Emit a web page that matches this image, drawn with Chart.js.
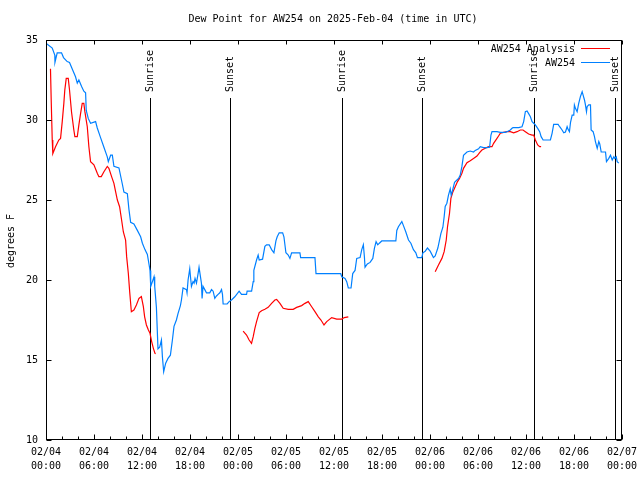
<!DOCTYPE html>
<html>
<head>
<meta charset="utf-8">
<script src="https://cdn.jsdelivr.net/npm/chart.js@4/dist/chart.umd.min.js"></script>
<style>
html,body{margin:0;padding:0;background:#fff;}
#wrap{width:640px;height:480px;}
</style>
</head>
<body>
<div id="wrap"><canvas id="c" width="640" height="480"></canvas></div>
<script>
// ---- data (hours since 2025-02-04 00:00 UTC, dew point in degrees F) ----
const titleText = 'Dew Point for AW254 on 2025-Feb-04 (time in UTC)';
const yAxisTitle = 'degrees F';
const dateLabels = ['02/04','02/04','02/04','02/04','02/05','02/05','02/05','02/05','02/06','02/06','02/06','02/06','02/07'];
const timeLabels = ['00:00','06:00','12:00','18:00','00:00','06:00','12:00','18:00','00:00','06:00','12:00','18:00','00:00'];
const yTicks = [10,15,20,25,30,35];

const blueName = 'AW254';
const blueHours = [0,0.78,1.10,1.12,1.40,1.94,2.19,2.65,2.94,3.36,3.69,3.91,4.11,4.45,4.73,4.95,5.03,5.28,5.57,6.20,6.41,6.82,7.24,7.66,7.79,8.08,8.29,8.49,9.12,9.33,9.54,9.74,10.17,10.37,10.58,10.99,11.42,11.83,12.05,12.37,12.67,12.87,13.00,13.09,13.30,13.50,13.59,13.80,14.00,14.21,14.43,14.55,14.71,14.96,15.25,15.55,15.80,16.00,16.30,16.50,16.80,16.93,17.13,17.56,17.63,17.76,17.97,18.06,18.18,18.38,18.51,18.63,18.81,19.01,19.13,19.31,19.43,19.51,19.63,19.85,20.06,20.47,20.69,20.89,21.10,21.31,21.51,21.73,21.94,22.06,22.14,22.64,22.89,23.19,23.60,24.14,24.44,25.07,25.14,25.70,25.90,25.98,26.32,26.52,26.65,27.07,27.36,27.57,27.90,28.20,28.49,28.74,28.90,29.15,29.58,29.74,29.99,30.28,30.49,30.70,31.74,31.83,33.62,33.75,36.84,36.97,37.38,37.59,37.79,38.13,38.34,38.63,38.84,39.26,39.47,39.67,39.80,39.88,40.17,40.51,40.85,41.05,41.26,41.47,41.67,41.97,43.73,43.85,44.05,44.48,44.68,44.98,45.31,45.61,45.93,46.23,46.43,46.98,47.11,47.40,47.68,48.02,48.43,48.65,48.98,49.36,49.61,49.77,49.90,50.11,50.31,50.53,50.65,50.82,51.07,51.37,51.57,51.78,51.99,52.19,52.62,53.03,53.44,53.66,54.07,54.28,54.70,55.12,55.45,55.62,55.75,56.37,56.79,57.41,57.62,58.04,58.25,58.38,59.08,59.50,59.71,59.92,60.13,60.33,60.55,60.76,60.96,61.17,61.46,61.71,61.89,62.14,63.05,63.26,63.46,64.01,64.21,64.51,64.72,64.93,65.14,65.27,65.43,65.56,65.77,65.97,66.05,66.18,66.39,66.59,66.80,67.02,67.14,67.31,67.43,67.56,67.64,67.84,68.06,68.14,68.39,68.56,68.68,68.90,69.10,69.22,69.40,69.94,70.06,70.35,70.56,70.78,70.98,71.10,71.28,71.40,71.60];
const blueDew = [34.8,34.5,34.06,33.6,34.2,34.2,33.9,33.65,33.6,33.1,32.7,32.3,32.5,32.1,31.8,31.7,30.6,30.1,29.8,29.9,29.5,28.9,28.3,27.7,27.4,27.8,27.8,27.1,27.0,26.5,26.0,25.5,25.4,24.4,23.6,23.5,23.1,22.7,22.3,21.9,21.6,21.0,20.6,19.6,19.9,20.2,19.6,18.3,15.7,15.8,16.25,15.2,14.27,14.8,15.1,15.3,16.25,17.1,17.5,17.9,18.4,18.75,19.5,19.4,19.2,20.0,20.7,20.2,19.6,19.9,19.8,20.1,19.8,20.4,20.8,20.2,19.8,18.85,19.6,19.4,19.2,19.2,19.4,19.3,18.85,19.0,19.1,19.2,19.4,19.1,18.5,18.5,18.65,18.75,18.95,19.3,19.1,19.1,19.3,19.3,19.9,20.6,21.25,21.56,21.25,21.3,22.1,22.2,22.2,21.9,21.7,22.45,22.7,22.95,22.95,22.7,21.7,21.56,21.35,21.7,21.7,21.4,21.4,20.4,20.4,20.2,20.1,19.9,19.5,19.5,20.4,20.6,21.35,21.4,21.9,22.2,21.45,20.8,21.0,21.1,21.35,21.98,22.4,22.2,22.3,22.44,22.44,23.1,23.33,23.65,23.4,23.0,22.5,22.3,21.9,21.7,21.4,21.4,21.7,21.8,22.0,21.8,21.4,21.5,22.0,22.9,23.3,23.95,24.6,24.8,25.3,25.7,25.3,25.6,26.1,26.25,26.35,26.56,27.1,27.8,28.0,28.06,28.0,28.1,28.2,28.33,28.27,28.27,28.3,29.06,29.27,29.27,29.23,29.23,29.27,29.375,29.48,29.52,29.52,29.58,29.9,30.52,30.56,30.4,30.2,29.9,29.8,29.7,29.48,29.27,28.96,28.75,28.75,29.17,29.73,29.73,29.58,29.375,29.2,29.25,29.58,29.4,29.27,29.83,30.3,30.3,30.94,30.73,30.52,31.04,31.46,31.77,31.56,31.25,30.94,30.52,30.83,30.94,30.94,29.375,29.27,28.96,28.65,28.23,28.65,28.5,28.0,28.0,27.4,27.6,27.8,27.5,27.7,27.6,27.7,27.4,27.3];

const redName = 'AW254 Analysis';
const redHours = [0.56,0.65,0.78,0.85,1.19,1.60,1.82,2.03,2.23,2.35,2.53,2.78,2.94,3.19,3.48,3.61,3.91,4.11,4.32,4.53,4.73,4.86,5.16,5.36,5.57,5.99,6.41,6.61,6.91,7.24,7.66,7.86,8.20,8.49,8.70,8.92,9.20,9.45,9.67,9.95,10.08,10.29,10.46,10.67,10.99,11.30,11.62,11.92,12.17,12.33,12.55,12.80,13.00,13.21,13.42,13.62,13.71,
  20,
  24.64,25.07,25.39,25.69,25.90,26.11,26.32,26.65,26.95,27.36,27.77,28.20,28.61,28.83,29.24,29.65,30.28,30.90,31.33,31.96,32.37,32.78,33.21,33.62,34.04,34.37,34.75,35.09,35.71,36.34,36.97,37.29,37.79,
  43,
  48.65,49.06,49.49,49.77,50.03,50.19,50.44,50.61,50.87,51.15,51.44,51.69,51.99,52.19,52.62,53.03,53.44,53.87,54.20,54.49,54.91,55.32,55.75,55.95,56.29,56.57,56.79,57.20,57.62,58.04,58.45,58.88,59.29,59.63,59.92,60.33,60.76,60.96,61.17,61.46,61.71,61.89];
const redDew = [33.2,31.25,28.75,27.9,28.33,28.75,28.85,29.9,31.04,31.875,32.6,32.6,31.875,30.5,29.375,28.96,28.96,29.7,30.4,31.04,31.04,30.52,29.58,28.33,27.4,27.2,26.67,26.46,26.46,26.77,27.1,26.98,26.46,26.04,25.52,25.0,24.58,23.75,23.0,22.5,21.46,20.42,19.27,18.02,18.125,18.44,18.85,18.96,18.33,17.7,17.19,16.875,16.67,16.15,15.73,15.42,15.4,
  null,
  16.8,16.56,16.25,16.04,16.46,16.98,17.4,17.96,18.08,18.17,18.29,18.54,18.75,18.79,18.54,18.23,18.17,18.17,18.29,18.4,18.54,18.65,18.33,18.02,17.7,17.5,17.19,17.4,17.65,17.56,17.56,17.65,17.7,
  null,
  20.52,20.94,21.35,21.77,22.5,23.33,24.17,25.1,25.52,25.83,26.15,26.35,26.67,26.98,27.33,27.46,27.6,27.75,27.96,28.125,28.23,28.33,28.33,28.54,28.79,29.0,29.17,29.23,29.27,29.27,29.2,29.27,29.375,29.375,29.27,29.125,29.06,29.06,28.75,28.44,28.33,28.33];

const sunHours = [13.05, 23.02, 37.0, 47.06, 60.96, 71.1];
const sunLabels = ['Sunrise','Sunset','Sunrise','Sunset','Sunrise','Sunset'];

// ---- styling ----
const FONT = '10px "DejaVu Sans Mono", "Liberation Mono", monospace';
const RED = '#ff0000';
const BLUE = '#0080ff';

const toXY = (xs, ys) => xs.map((x, i) => ({x: x, y: ys[i]}));

const decor = {
  id: 'decor',
  beforeDatasetsDraw(chart) {
    const {ctx, chartArea: a, scales: {x, y}} = chart;
    ctx.save();
    ctx.strokeStyle = '#000';
    ctx.lineWidth = 1;
    ctx.font = FONT;
    ctx.fillStyle = '#000';
    sunHours.forEach((h, i) => {
      const px = Math.round(x.getPixelForValue(h)) + 0.5;
      ctx.beginPath();
      ctx.moveTo(px, a.bottom);
      ctx.lineTo(px, 98);
      ctx.stroke();
      ctx.save();
      ctx.translate(px, 92);
      ctx.rotate(-Math.PI / 2);
      ctx.textAlign = 'left';
      ctx.textBaseline = 'middle';
      ctx.fillText(sunLabels[i], 0, 0);
      ctx.restore();
    });
    ctx.restore();
  },
  afterDraw(chart) {
    const {ctx, chartArea: a, scales: {x, y}} = chart;
    ctx.save();
    ctx.strokeStyle = '#000';
    ctx.lineWidth = 1;
    const L = a.left + 0.5, R = a.right - 0.5, T = a.top + 0.5, B = a.bottom - 0.5;
    ctx.strokeRect(L, T, R - L, B - T);
    ctx.beginPath();
    for (let h = 0; h <= 72; h += 2) {
      const px = Math.round(x.getPixelForValue(h)) + 0.5;
      const len = (h % 6 === 0) ? 5 : 3;
      ctx.moveTo(px, B); ctx.lineTo(px, B - len);
      if (h % 6 === 0) { ctx.moveTo(px, T); ctx.lineTo(px, T + 4); }
    }
    yTicks.forEach(v => {
      const py = Math.round(y.getPixelForValue(v)) + 0.5;
      ctx.moveTo(L, py); ctx.lineTo(L + 5, py);
      ctx.moveTo(R, py); ctx.lineTo(R - 5, py);
    });
    ctx.stroke();

    ctx.font = FONT;
    ctx.fillStyle = '#000';
    ctx.textAlign = 'center';
    ctx.textBaseline = 'middle';
    ctx.fillText(titleText, 333, 19);
    ctx.save();
    ctx.translate(11, 241);
    ctx.rotate(-Math.PI / 2);
    ctx.fillText(yAxisTitle, 0, 0);
    ctx.restore();

    ctx.textAlign = 'right';
    ctx.fillText(redName, 575, 49);
    ctx.fillText(blueName, 575, 63);
    ctx.strokeStyle = RED;
    ctx.beginPath(); ctx.moveTo(581, 48.5); ctx.lineTo(610, 48.5); ctx.stroke();
    ctx.strokeStyle = BLUE;
    ctx.beginPath(); ctx.moveTo(581, 62.5); ctx.lineTo(610, 62.5); ctx.stroke();
    ctx.restore();
  }
};

new Chart(document.getElementById('c'), {
  type: 'line',
  data: {
    datasets: [
      {label: blueName, data: toXY(blueHours, blueDew), borderColor: BLUE, borderWidth: 1.2, pointRadius: 0, tension: 0, fill: false, order: 0},
      {label: redName, data: toXY(redHours, redDew), borderColor: RED, borderWidth: 1.2, pointRadius: 0, tension: 0, fill: false, spanGaps: false, order: 1}
    ]
  },
  options: {
    responsive: false,
    animation: false,
    events: [],
    layout: {padding: {top: 40, right: 18, left: 0, bottom: 0}},
    plugins: {legend: {display: false}, title: {display: false}, tooltip: {enabled: false}},
    scales: {
      x: {
        type: 'linear', min: 0, max: 72,
        grid: {display: false, drawTicks: false},
        border: {display: false},
        afterFit: s => { s.height = 40; s.paddingLeft = 0; s.paddingRight = 0; },
        afterBuildTicks: s => { s.ticks = dateLabels.map((d, i) => ({value: i * 6})); },
        ticks: {
          autoSkip: false, maxRotation: 0, padding: 6,
          color: '#000',
          font: {family: '"DejaVu Sans Mono", monospace', size: 10, lineHeight: 1.35},
          callback: v => { const i = Math.round(v / 6); return [dateLabels[i], timeLabels[i]]; }
        }
      },
      y: {
        type: 'linear', min: 10, max: 35,
        grid: {display: false, drawTicks: false},
        border: {display: false},
        afterFit: s => { s.width = 46; s.paddingTop = 0; s.paddingBottom = 0; },
        afterBuildTicks: s => { s.ticks = yTicks.map(v => ({value: v})); },
        ticks: {
          padding: 8, color: '#000',
          font: {family: '"DejaVu Sans Mono", monospace', size: 10},
          callback: v => String(v)
        }
      }
    }
  },
  plugins: [decor]
});
</script>
</body>
</html>
